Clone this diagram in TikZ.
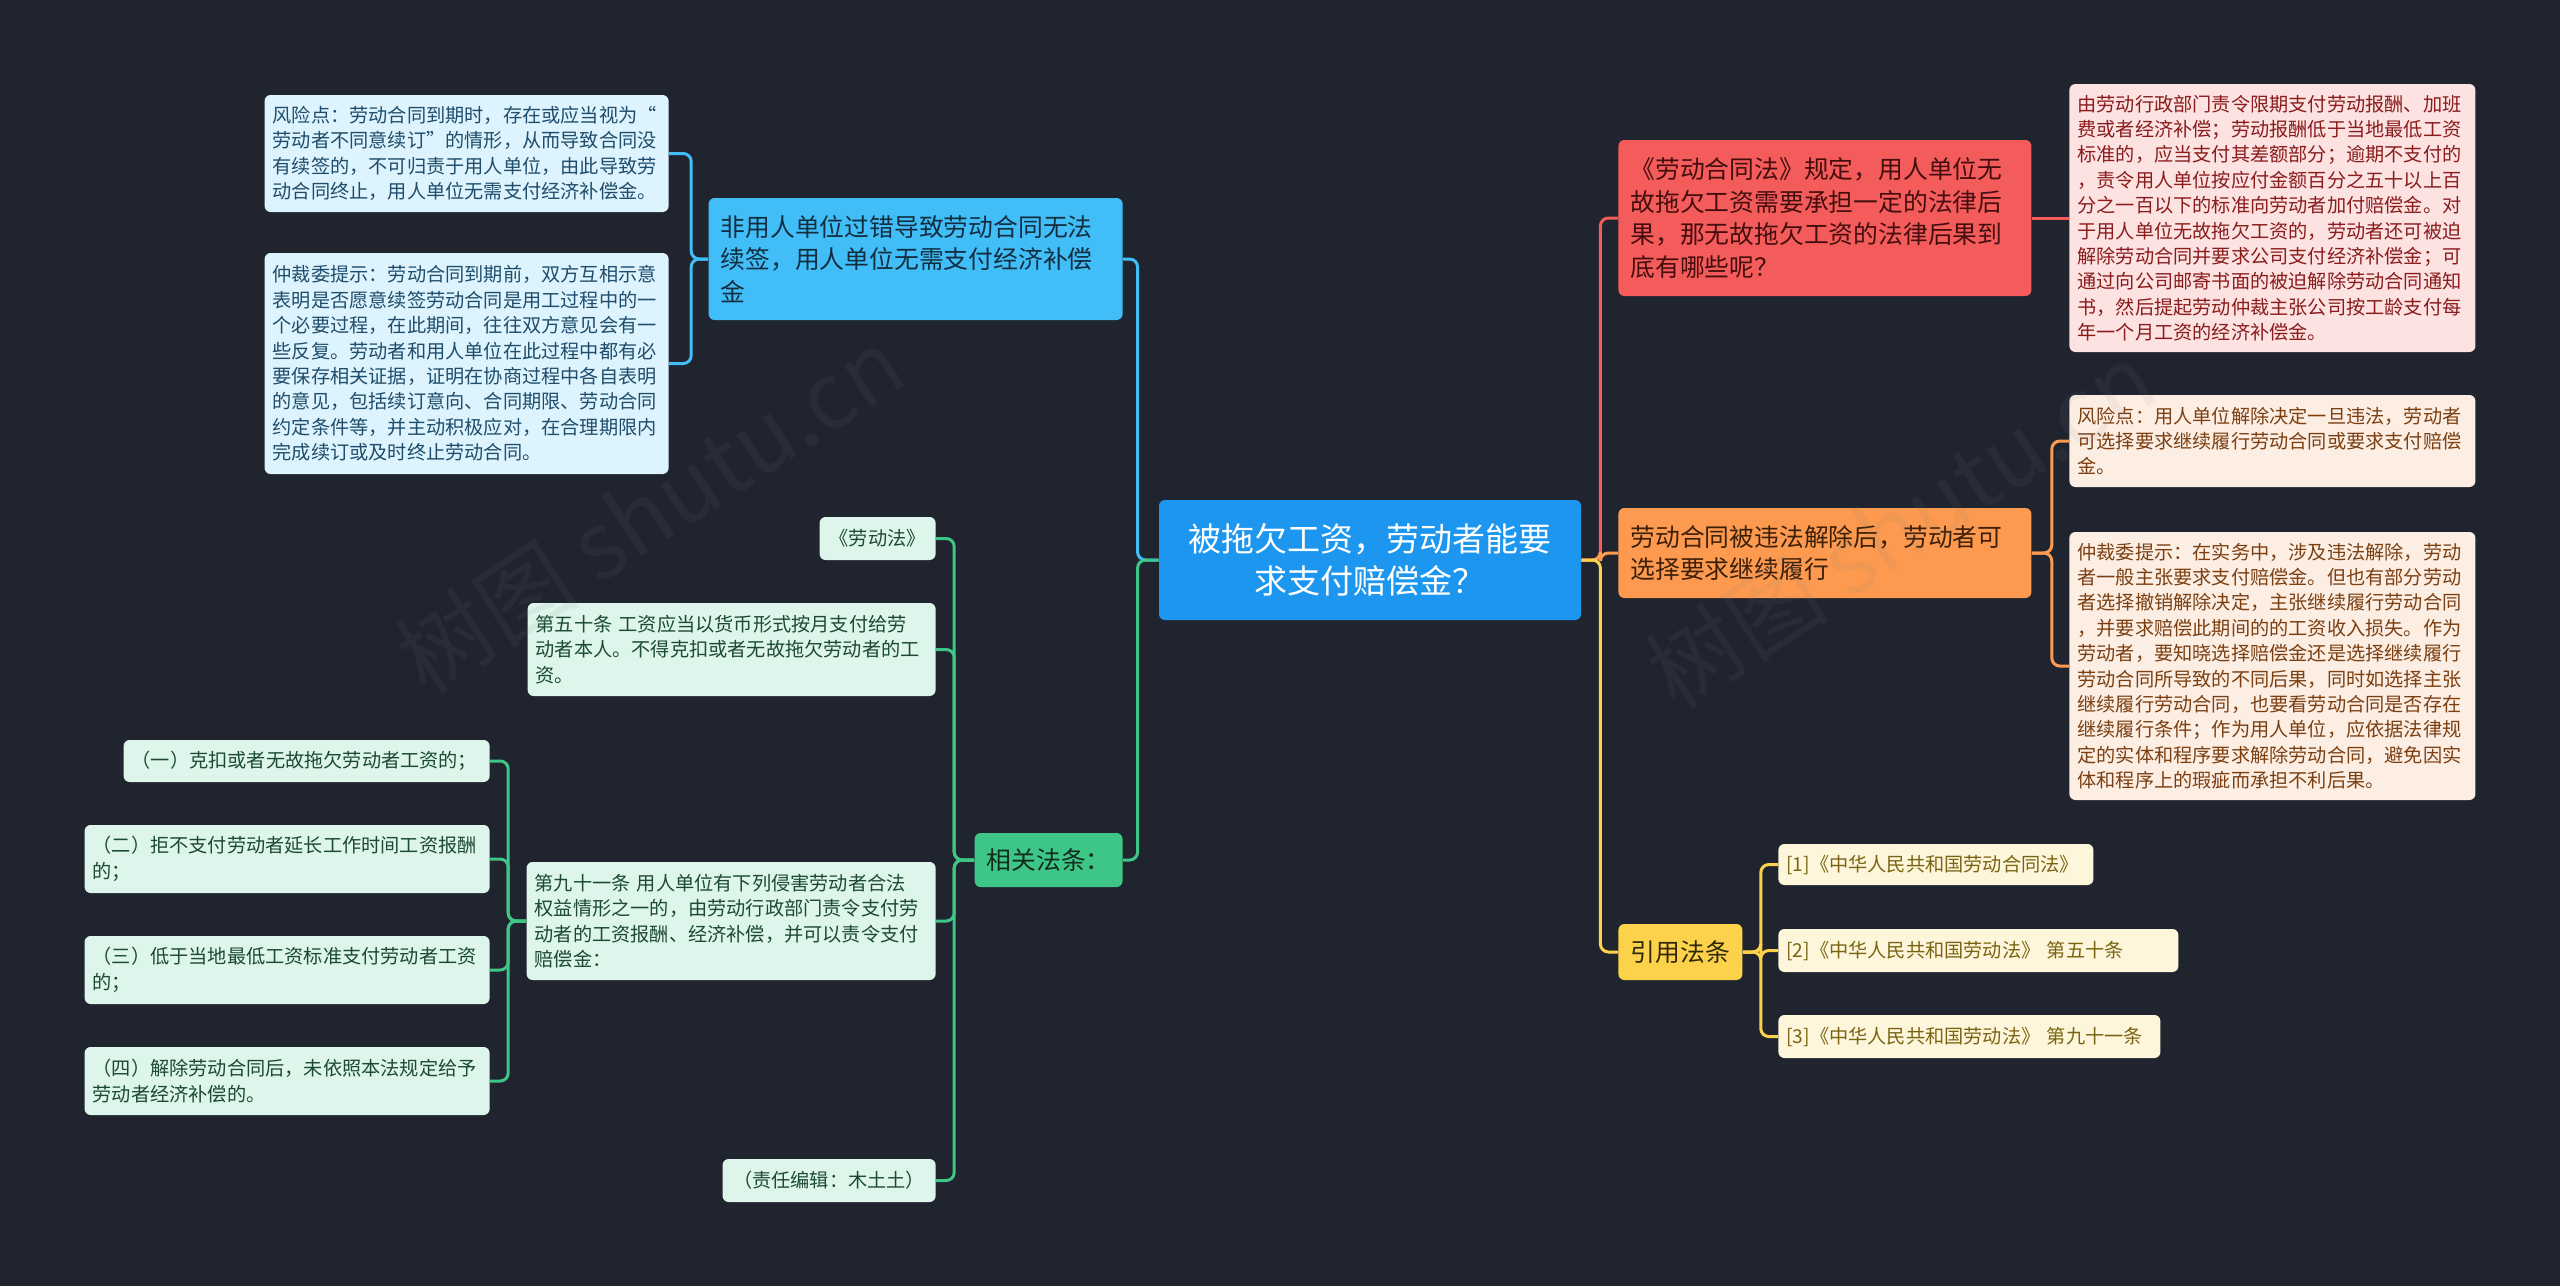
\documentclass[tikz,border=0pt]{standalone}
\usepackage{fontspec}
\setmainfont{Noto Sans CJK SC}
\usepackage{tikz}
\definecolor{bgC}{RGB}{32,36,47}
\definecolor{rootC}{RGB}{28,150,238}
\definecolor{blueC}{RGB}{65,190,248}
\definecolor{blueL}{RGB}{221,243,253}
\definecolor{blueT}{RGB}{31,77,107}
\definecolor{greenC}{RGB}{62,198,134}
\definecolor{greenL}{RGB}{221,245,234}
\definecolor{greenT}{RGB}{28,74,50}
\definecolor{redC}{RGB}{244,91,91}
\definecolor{redL}{RGB}{253,226,226}
\definecolor{redT}{RGB}{138,28,28}
\definecolor{orangeC}{RGB}{253,154,80}
\definecolor{orangeL}{RGB}{253,238,227}
\definecolor{orangeT}{RGB}{123,63,18}
\definecolor{yellowC}{RGB}{252,210,74}
\definecolor{yellowL}{RGB}{253,246,219}
\definecolor{yellowT}{RGB}{122,100,18}

\begin{document}
\begin{tikzpicture}[x=0.5pt, y=-0.5pt,
    box/.style={rectangle, rounded corners=3pt, inner xsep=4pt, inner ysep=2pt, align=left},
    leaf/.style={box, font=\fontsize{9.6}{12.7}\selectfont},
    branch/.style={box, inner xsep=6pt, font=\fontsize{12.4}{16.3}\selectfont},
    link/.style={line width=1.5pt, rounded corners=4pt}]
  % Background
  \fill[bgC] (0,0) rectangle (2560,1286);
  \useasboundingbox (0,0) rectangle (2560,1286);
  % Root
  \node[box, fill=rootC, text=white, align=center, inner xsep=6pt, text width=199pt, minimum height=60pt,
        font=\fontsize{16.5}{21}\selectfont] (root) at (1370,560)
    {被拖欠工资，劳动者能要\\求支付赔偿金？};
  % Left branch: no fault
  \node[branch, fill=blueC, text=blueT!60!black, anchor=east, text width=195pt, minimum height=61pt] (nofault) at (1123,259)
    {非用人单位过错导致劳动合同无法\\续签，用人单位无需支付经济补偿\\金};
  \node[leaf, fill=blueL, text=blueT, anchor=east, text width=194pt, minimum height=58.5pt] (riskA) at (669,153.5)
    {风险点：劳动合同到期时，存在或应当视为“\\劳动者不同意续订”的情形，从而导致合同没\\有续签的，不可归责于用人单位，由此导致劳\\动合同终止，用人单位无需支付经济补偿金。};
  \node[leaf, fill=blueL, text=blueT, anchor=east, text width=194pt, minimum height=110.5pt] (arbA) at (669,363.5)
    {仲裁委提示：劳动合同到期前，双方互相示意\\表明是否愿意续签劳动合同是用工过程中的一\\个必要过程，在此期间，往往双方意见会有一\\些反复。劳动者和用人单位在此过程中都有必\\要保存相关证据，证明在协商过程中各自表明\\的意见，包括续订意向、合同期限、劳动合同\\约定条件等，并主动积极应对，在合理期限内\\完成续订或及时终止劳动合同。};
  % Left branch: laws
  \node[branch, fill=greenC, text=greenT!60!black, anchor=east, align=center, text width=62pt, minimum height=27pt] (law) at (1123,860)
    {相关法条：};
  \node[leaf, fill=greenL, text=greenT, anchor=east, align=center, text width=50pt, minimum height=21.5pt] (ldf) at (936,538.5)
    {《劳动法》};
  \node[leaf, fill=greenL, text=greenT, anchor=east, text width=196pt, minimum height=46.5pt] (art50) at (936,649.5)
    {第五十条 工资应当以货币形式按月支付给劳\\动者本人。不得克扣或者无故拖欠劳动者的工\\资。};
  \node[leaf, fill=greenL, text=greenT, anchor=east, text width=196.5pt, minimum height=59pt] (art91) at (936,921)
    {第九十一条 用人单位有下列侵害劳动者合法\\权益情形之一的，由劳动行政部门责令支付劳\\动者的工资报酬、经济补偿，并可以责令支付\\赔偿金：};
  \node[leaf, fill=greenL, text=greenT, anchor=east, align=center, text width=98.5pt, minimum height=21.5pt] (editor) at (936,1180.5)
    {（责任编辑：木土土）};
  \node[leaf, fill=greenL, text=greenT, anchor=east, text width=175pt, minimum height=21pt] (item1) at (490,761)
    {（一）克扣或者无故拖欠劳动者工资的；};
  \node[leaf, fill=greenL, text=greenT, anchor=east, text width=194.5pt, minimum height=34pt] (item2) at (490,859)
    {（二）拒不支付劳动者延长工作时间工资报酬\\的；};
  \node[leaf, fill=greenL, text=greenT, anchor=east, text width=194.5pt, minimum height=34pt] (item3) at (490,970)
    {（三）低于当地最低工资标准支付劳动者工资\\的；};
  \node[leaf, fill=greenL, text=greenT, anchor=east, text width=194.5pt, minimum height=34pt] (item4) at (490,1081)
    {（四）解除劳动合同后，未依照本法规定给予\\劳动者经济补偿的。};
  % Right branch: legal consequence
  \node[branch, fill=redC, text=redT!50!black, anchor=west, text width=194.5pt, minimum height=78pt] (conseq) at (1618,218)
    {《劳动合同法》规定，用人单位无\\故拖欠工资需要承担一定的法律后\\果，那无故拖欠工资的法律后果到\\底有哪些呢？};
  \node[leaf, fill=redL, text=redT, anchor=west, text width=195pt, minimum height=134pt] (pay) at (2069,218)
    {由劳动行政部门责令限期支付劳动报酬、加班\\费或者经济补偿；劳动报酬低于当地最低工资\\标准的，应当支付其差额部分；逾期不支付的\\，责令用人单位按应付金额百分之五十以上百\\分之一百以下的标准向劳动者加付赔偿金。对\\于用人单位无故拖欠工资的，劳动者还可被迫\\解除劳动合同并要求公司支付经济补偿金；可\\通过向公司邮寄书面的被迫解除劳动合同通知\\书，然后提起劳动仲裁主张公司按工龄支付每\\年一个月工资的经济补偿金。};
  % Right branch: unlawful dismissal
  \node[branch, fill=orangeC, text=orangeT!50!black, anchor=west, text width=194.5pt, minimum height=45pt] (dismiss) at (1618,553)
    {劳动合同被违法解除后，劳动者可\\选择要求继续履行};
  \node[leaf, fill=orangeL, text=orangeT, anchor=west, text width=195pt, minimum height=46pt] (riskB) at (2069,441)
    {风险点：用人单位解除决定一旦违法，劳动者\\可选择要求继续履行劳动合同或要求支付赔偿\\金。};
  \node[leaf, fill=orangeL, text=orangeT, anchor=west, text width=195pt, minimum height=134pt] (arbB) at (2069,666)
    {仲裁委提示：在实务中，涉及违法解除，劳动\\者一般主张要求支付赔偿金。但也有部分劳动\\者选择撤销解除决定，主张继续履行劳动合同\\，并要求赔偿此期间的的工资收入损失。作为\\劳动者，要知晓选择赔偿金还是选择继续履行\\劳动合同所导致的不同后果，同时如选择主张\\继续履行劳动合同，也要看劳动合同是否存在\\继续履行条件；作为用人单位，应依据法律规\\定的实体和程序要求解除劳动合同，避免因实\\体和程序上的瑕疵而承担不利后果。};
  % Right branch: cited laws
  \node[branch, fill=yellowC, text=yellowT!40!black, anchor=west, align=center, text width=50pt, minimum height=28pt] (cite) at (1618,952)
    {引用法条};
  \node[leaf, fill=yellowL, text=yellowT, anchor=west, text width=149.5pt, minimum height=20.5pt] (ref1) at (1778,864.5)
    {[1]《中华人民共和国劳动合同法》};
  \node[leaf, fill=yellowL, text=yellowT, anchor=west, text width=192pt, minimum height=21.5pt] (ref2) at (1778,950.5)
    {[2]《中华人民共和国劳动法》 第五十条};
  \node[leaf, fill=yellowL, text=yellowT, anchor=west, text width=183pt, minimum height=21.5pt] (ref3) at (1778,1036.5)
    {[3]《中华人民共和国劳动法》 第九十一条};
  % Connectors
  \draw[link, blueC] (root.west) -- ++(-21,0) |- (nofault.east);
  \draw[link, greenC] (root.west) -- ++(-21,0) |- (law.east);
  \foreach \n in {riskA, arbA}
    \draw[link, blueC] (nofault.west) -- ++(-17,0) |- (\n.east);
  \foreach \n in {ldf, art50, art91, editor}
    \draw[link, greenC] (law.west) -- ++(-20,0) |- (\n.east);
  \foreach \n in {item1, item2, item3, item4}
    \draw[link, greenC] (art91.west) -- ++(-18,0) |- (\n.east);
  \foreach \n/\c in {conseq/redC, dismiss/orangeC, cite/yellowC}
    \draw[link, \c] (root.east) -- ++(19,0) |- (\n.west);
  \draw[link, redC] (conseq.east) -- (pay.west);
  \foreach \n in {riskB, arbB}
    \draw[link, orangeC] (dismiss.east) -- ++(20,0) |- (\n.west);
  \foreach \n in {ref1, ref2, ref3}
    \draw[link, yellowC] (cite.east) -- ++(18,0) |- (\n.west);
  % Watermarks
  \foreach \p in {(650,510), (1900,525)}
    \node[rotate=33, text=gray, opacity=0.09, font=\fontsize{46}{46}\selectfont] at \p {树图 shutu.cn};
\end{tikzpicture}
\end{document}
